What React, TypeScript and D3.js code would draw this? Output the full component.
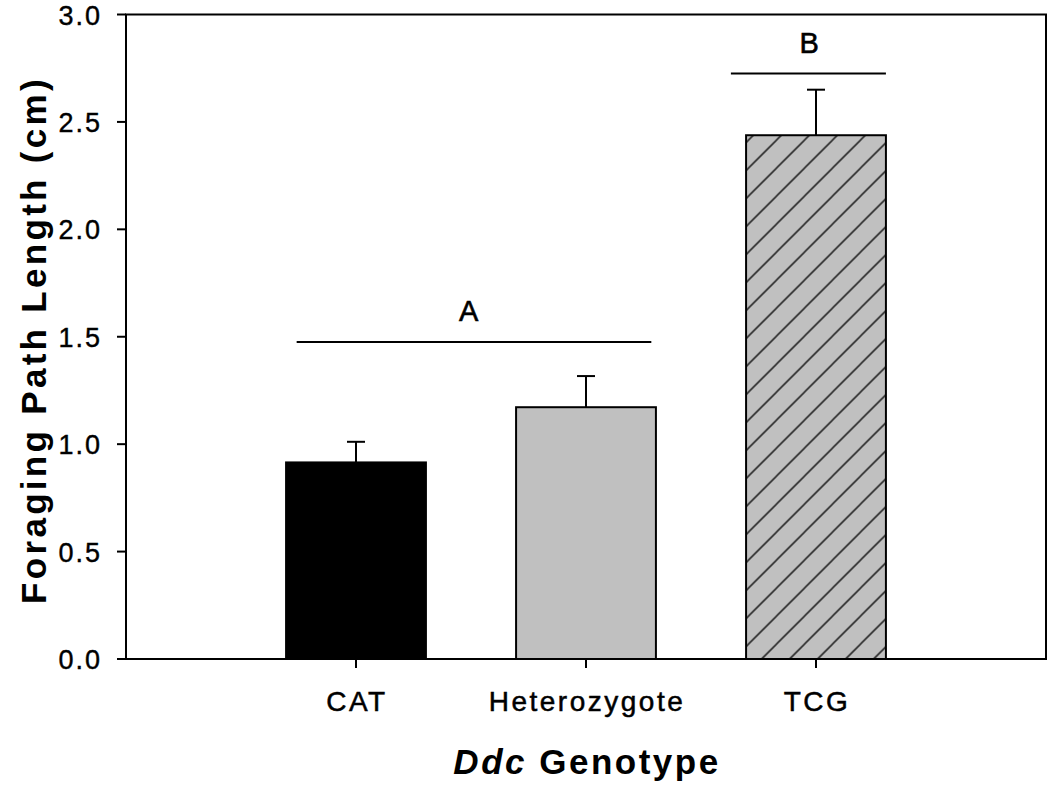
import React from 'react';
import * as d3 from 'd3';

const categories = ['CAT', 'Heterozygote', 'TCG'];
const means = [0.915, 1.172, 2.438];
const errors = [0.096, 0.145, 0.212];
const fills = ['#000000', '#c0c0c0', '#c0c0c0'];
const hatched = [false, false, true];
const yTicks = [0, 0.5, 1.0, 1.5, 2.0, 2.5, 3.0];
// significance groups: label, y level, span in category-slot units, label position
const groupLabels = ['A', 'B'];
const groupLevels = [1.476, 2.725];
const groupStarts = [0.742, 2.63];
const groupEnds = [2.284, 3.304];
const groupLabelPos = [1.49, 2.97];

const W = 1050;
const H = 787;
const left = 126;
const right = 1046;
const top = 14.5;
const bottom = 659;

export default function App() {
  const x = d3.scalePoint<string>().domain(categories).range([left, right]).padding(1);
  const slot = d3.scaleLinear().domain([0, categories.length + 1]).range([left, right]);
  const y = d3.scaleLinear().domain([0, 3]).range([bottom, top]);
  const step = x.step();
  const bw = step * 0.608;
  const cap = 9;
  const font = 'Arial, "Liberation Sans", sans-serif';

  return (
    <svg width={W} height={H} style={{ position: 'absolute', left: 0, top: 0, background: '#fff' }}>
      <defs>
        <pattern id="hatch" patternUnits="userSpaceOnUse" width={28} height={28}
          patternTransform="translate(20.6,0)">
          <rect width={28} height={28} fill="#c0c0c0" />
          <path d="M-4,4 L4,-4 M0,28 L28,0 M24,32 L32,24" stroke="#2a2a2a" strokeWidth={1.6} />
        </pattern>
      </defs>

      {/* bars */}
      {categories.map((c, i) => (
        <g key={c}>
          <rect x={x(c)! - bw / 2} y={y(means[i])} width={bw} height={y(0) - y(means[i])}
            fill={hatched[i] ? 'url(#hatch)' : fills[i]} stroke="#000" strokeWidth={2} />
          <line x1={x(c)} x2={x(c)} y1={y(means[i])} y2={y(means[i] + errors[i])} stroke="#000" strokeWidth={2} />
          <line x1={x(c)! - cap} x2={x(c)! + cap} y1={y(means[i] + errors[i])} y2={y(means[i] + errors[i])} stroke="#000" strokeWidth={2} />
        </g>
      ))}

      {/* frame */}
      <rect x={left} y={top} width={right - left} height={bottom - top} fill="none" stroke="#000" strokeWidth={2} />

      {/* y ticks */}
      {yTicks.map((t) => (
        <g key={t}>
          <line x1={left - 9} x2={left} y1={y(t)} y2={y(t)} stroke="#000" strokeWidth={2} />
          <text x={102} y={y(t) + 10} textAnchor="end" fontFamily={font} fontSize={27} fontWeight="normal"
            letterSpacing={2} fill="#000" stroke="#000" strokeWidth={0.4}>{t.toFixed(1)}</text>
        </g>
      ))}

      {/* x ticks */}
      {categories.map((c) => (
        <g key={c}>
          <line x1={x(c)} x2={x(c)} y1={bottom} y2={bottom + 9} stroke="#000" strokeWidth={2} />
          <text x={x(c)! + 1} y={711} textAnchor="middle" fontFamily={font} fontSize={28} fontWeight="normal"
            letterSpacing={2.5} fill="#000" stroke="#000" strokeWidth={0.5}>{c}</text>
        </g>
      ))}

      {/* significance groups */}
      {groupLabels.map((g, i) => (
        <g key={g}>
          <line x1={slot(groupStarts[i])} x2={slot(groupEnds[i])} y1={y(groupLevels[i])} y2={y(groupLevels[i])}
            stroke="#000" strokeWidth={2} />
          <text x={slot(groupLabelPos[i])} y={y(groupLevels[i]) - 21} textAnchor="middle" fontFamily={font}
            fontSize={29} fill="#000" stroke="#000" strokeWidth={0.6}>{g}</text>
        </g>
      ))}

      {/* axis titles */}
      <text x={587} y={774} textAnchor="middle" fontFamily={font} fontSize={35} fontWeight="bold"
        letterSpacing={2.5} fill="#000">
        <tspan fontStyle="italic">Ddc</tspan> Genotype
      </text>
      <text transform={`translate(46,${(75 + 605) / 2}) rotate(-90)`} textAnchor="middle" fontFamily={font}
        fontSize={35} fontWeight="bold" letterSpacing={3.3} fill="#000">Foraging Path Length (cm)</text>
    </svg>
  );
}
